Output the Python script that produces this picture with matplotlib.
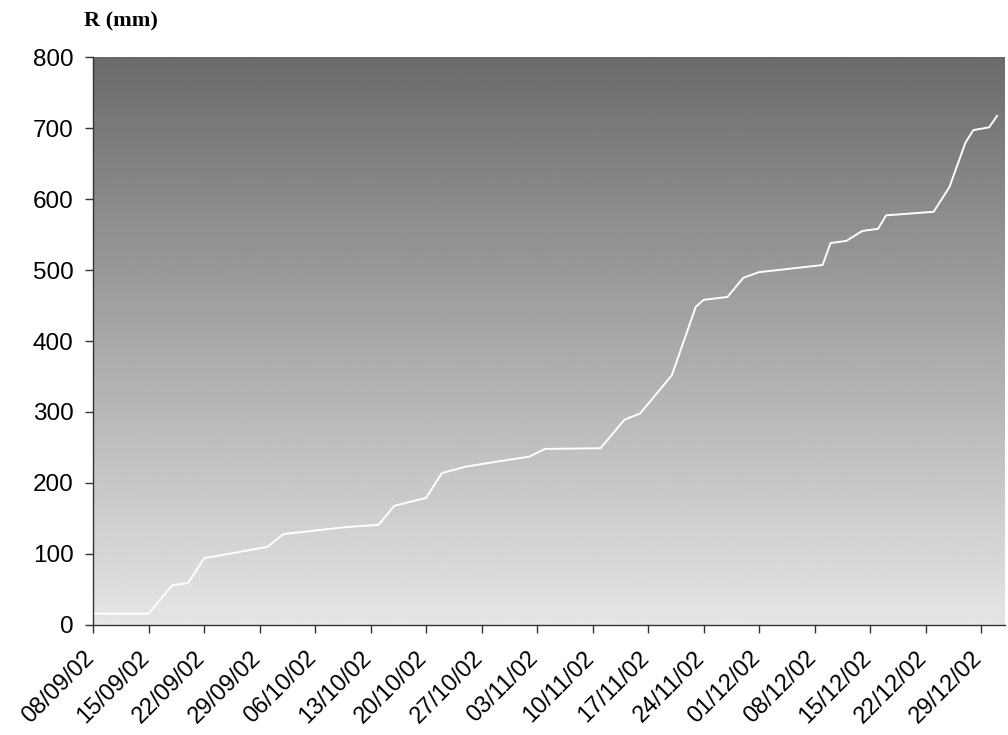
import numpy as np
import pandas as pd
import matplotlib
matplotlib.use('Agg')
import matplotlib.pyplot as plt
import matplotlib.dates as mdates
import matplotlib.transforms as mtransforms

# cumulative rainfall
dates = ['2002-09-08', '2002-09-15', '2002-09-18', '2002-09-20', '2002-09-22',
         '2002-09-30', '2002-10-02', '2002-10-10', '2002-10-14', '2002-10-16',
         '2002-10-20', '2002-10-22', '2002-10-25', '2002-10-30', '2002-11-02',
         '2002-11-04', '2002-11-11', '2002-11-14', '2002-11-16', '2002-11-20',
         '2002-11-23', '2002-11-24', '2002-11-27', '2002-11-29', '2002-12-01',
         '2002-12-09', '2002-12-10', '2002-12-12', '2002-12-14', '2002-12-16',
         '2002-12-17', '2002-12-23', '2002-12-25', '2002-12-27', '2002-12-28',
         '2002-12-30', '2002-12-31']
rain = [16, 16, 56, 59, 94,
        110, 128, 138, 141, 168,
        179, 214, 223, 232, 237,
        248, 249, 289, 298, 352,
        448, 458, 462, 489, 497,
        507, 538, 541, 555, 558,
        577, 582, 617, 679, 697,
        701, 717]

x_start = '2002-09-08'
x_end = '2003-01-01'
tick_dates = pd.date_range('2002-09-08', '2002-12-29', freq='7D')
y_ticks = list(range(0, 801, 100))

plt.rcParams['font.family'] = ['Liberation Sans', 'DejaVu Sans']

fig = plt.figure(figsize=(10.08, 7.35), dpi=100)
ax = fig.add_axes([0.0923, 0.1497, 0.9047, 0.7727])

# gray gradient background, dark on top
grad = np.linspace(0.90, 0.42, 256).reshape(-1, 1)
ax.imshow(grad, cmap='gray', vmin=0, vmax=1, aspect='auto', origin='lower',
          extent=[0, 1, 0, 1], transform=ax.transAxes, zorder=0)

x = pd.to_datetime(dates)
ax.plot(x, rain, color='white', linewidth=1.4, zorder=2)

ax.set_xlim(pd.Timestamp(x_start), pd.Timestamp(x_end))
ax.set_ylim(0, 800)
ax.set_yticks(y_ticks)
ax.set_xticks(tick_dates)
ax.xaxis.set_major_formatter(mdates.DateFormatter('%d/%m/%y'))

ax.tick_params(axis='both', length=6, width=1, color='#333333', direction='out')
ax.tick_params(axis='y', labelsize=17.5, pad=8)
ax.tick_params(axis='x', labelsize=17, pad=10)

shift = mtransforms.ScaledTranslation(-10 / 100, 0, fig.dpi_scale_trans)
for lab in ax.get_xticklabels():
    lab.set_rotation(45)
    lab.set_ha('right')
    lab.set_rotation_mode('anchor')
    lab.set_transform(lab.get_transform() + shift)

for s in ['top', 'right']:
    ax.spines[s].set_visible(False)
for s in ['left', 'bottom']:
    ax.spines[s].set_color('#333333')
    ax.spines[s].set_linewidth(1)

fig.text(84 / 1008, 1 - 21 / 735, 'R (mm)', family='Liberation Serif',
         fontweight='bold', fontsize=16, va='center', ha='left')

fig.savefig('out.png', dpi=100)
